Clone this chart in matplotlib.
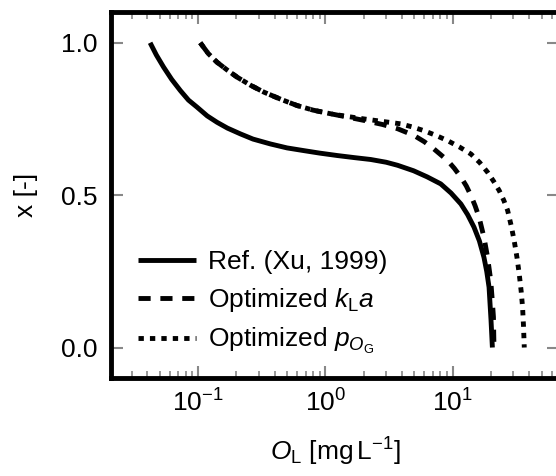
import matplotlib
matplotlib.use("Agg")
import matplotlib.pyplot as plt
from matplotlib.ticker import LogLocator, NullFormatter, FixedLocator

plt.rcParams['font.family'] = ['Liberation Sans', 'DejaVu Sans']
plt.rcParams['mathtext.fontset'] = 'custom'
plt.rcParams['mathtext.rm'] = 'Liberation Sans'
plt.rcParams['mathtext.it'] = 'Liberation Sans:italic'
plt.rcParams['mathtext.bf'] = 'Liberation Sans:bold'

# Data
ref_x = [0.042, 0.047, 0.0536, 0.062, 0.0726, 0.084, 0.098, 0.118, 0.141, 0.17, 0.215, 0.27,
         0.37, 0.5, 0.68, 0.9, 1.24, 1.7, 2.27, 3.0, 3.69, 4.93, 6.3, 8.05, 9.7, 11.6, 13.1,
         14.7, 16.2, 17.6, 18.5, 19.3, 20.0, 20.5]
ref_y = [1.0, 0.96, 0.92, 0.88, 0.843, 0.812, 0.789, 0.76, 0.739, 0.72, 0.701, 0.684,
         0.668, 0.655, 0.646, 0.638, 0.63, 0.623, 0.617, 0.608, 0.598, 0.58, 0.56, 0.537, 0.507, 0.471, 0.436,
         0.395, 0.35, 0.296, 0.25, 0.198, 0.09, 0.0]

kla_x = [0.104, 0.12, 0.141, 0.17, 0.203, 0.26, 0.329, 0.45, 0.60, 0.8, 1.10, 1.5, 2.02, 2.8,
         3.69, 4.96, 6.0, 7.1, 9.1, 10.3, 11.6, 12.8, 13.9, 15.0, 16.1, 17.6, 18.8, 19.9,
         20.5, 20.9, 21.1]
kla_y = [1.0, 0.965, 0.936, 0.91, 0.887, 0.86, 0.838, 0.814, 0.794, 0.779, 0.767, 0.756, 0.745, 0.732,
         0.718, 0.696, 0.675, 0.652, 0.614, 0.588, 0.559, 0.53, 0.499, 0.465, 0.428, 0.362, 0.296, 0.22,
         0.15, 0.1, 0.0]

pog_x = [0.104, 0.12, 0.141, 0.17, 0.203, 0.26, 0.329, 0.45, 0.60, 0.8, 1.10, 1.5, 2.02, 2.8,
         3.9, 4.8, 5.9, 7.3, 9.1, 11.3, 13.9, 16.3, 18.8, 21.0, 23.2, 25.2, 27.0, 28.8, 30.4,
         32.0, 33.3, 34.5, 35.4, 36.0, 36.5]
pog_y = [1.0, 0.965, 0.936, 0.91, 0.887, 0.86, 0.838, 0.814, 0.794, 0.779, 0.767, 0.758, 0.75, 0.742,
         0.734, 0.724, 0.712, 0.697, 0.679, 0.658, 0.635, 0.607, 0.575, 0.545, 0.515, 0.483, 0.45, 0.40, 0.351,
         0.295, 0.242, 0.185, 0.132, 0.07, 0.0]

labels = ["Ref. (Xu, 1999)", r"Optimized $k_\mathrm{L}a$", r"Optimized $p_{O_\mathrm{G}}$"]
yticks = [0.0, 0.5, 1.0]
yticklabels = ['0.0', '0.5', '1.0']

fig = plt.figure(figsize=(5.56, 4.76), dpi=100)
ax = fig.add_axes([111/556, 1 - 378/476, (559 - 111)/556, (378 - 12.3)/476])

lw = 3.5
ax.plot(ref_x, ref_y, color='black', lw=lw, solid_capstyle='butt', solid_joinstyle='round', label=labels[0])
ax.plot(kla_x, kla_y, color='black', lw=lw, linestyle=(0, (2.5, 2.0)), dash_capstyle='butt', label=labels[1])
ax.plot(pog_x, pog_y, color='black', lw=lw, linestyle=(0, (1.1, 1.25)), dash_capstyle='butt', label=labels[2])

ax.set_xscale('log')
ax.set_xlim(0.0207, 68.4)
ax.set_ylim(-0.1, 1.1)
ax.yaxis.set_major_locator(FixedLocator(yticks))
ax.set_yticklabels(yticklabels)
ax.xaxis.set_minor_locator(LogLocator(base=10, subs=range(2, 10), numticks=20))
ax.xaxis.set_minor_formatter(NullFormatter())

for s in ax.spines.values():
    s.set_linewidth(3.5)

fs = 19
ax.tick_params(which='major', direction='in', length=8.5, width=1.5, color='#888888',
               top=True, right=True, labelsize=fs, pad=8)
ax.tick_params(which='minor', direction='in', length=5, width=1.2, color='#888888',
               top=True, right=True)
ax.tick_params(axis='y', which='major', pad=10)

ax.set_xlabel(r"$O_\mathrm{L}$ [mg$\,$L$^{-1}$]", fontsize=fs, labelpad=14)
ax.set_ylabel("x [-]", fontsize=fs, labelpad=16)

leg = ax.legend(loc='center left', bbox_to_anchor=(0.06, 0.205), frameon=False,
                fontsize=fs, handlelength=2.2, handletextpad=0.45, borderpad=0,
                borderaxespad=0, labelspacing=0.45)

fig.savefig('out.png', dpi=100)
